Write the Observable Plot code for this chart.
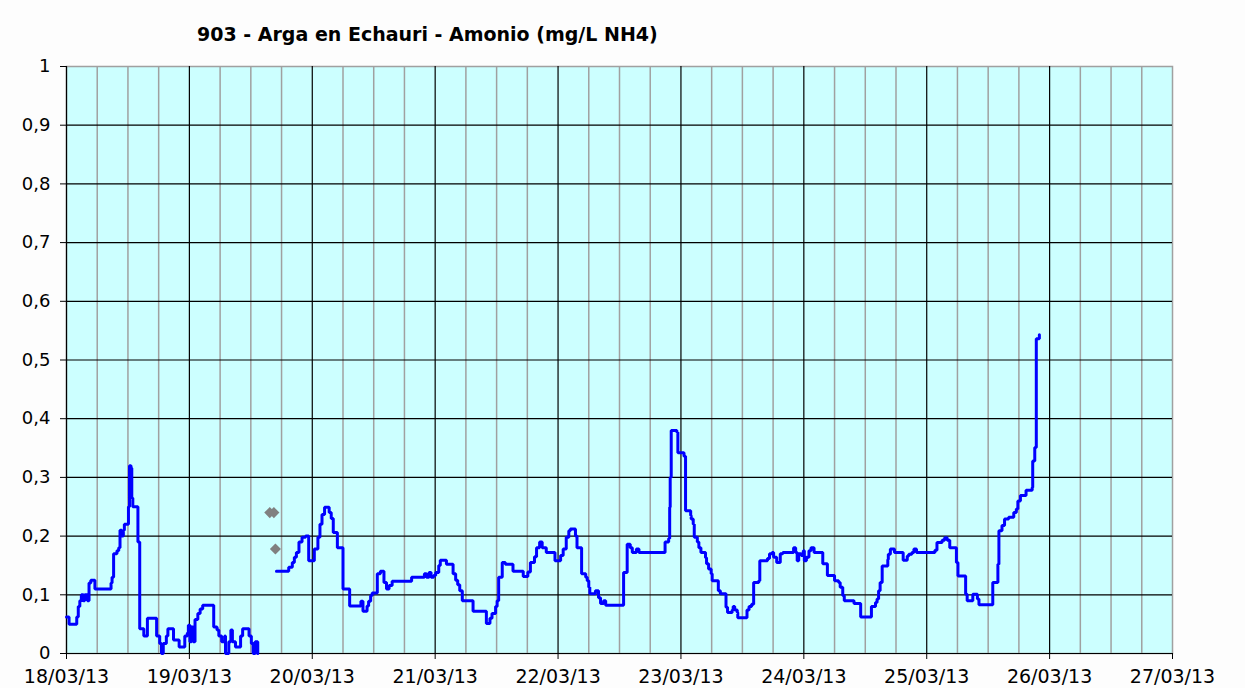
<!DOCTYPE html>
<html>
<head>
<meta charset="utf-8">
<script src="https://cdn.jsdelivr.net/npm/d3@7"></script>
<script src="https://cdn.jsdelivr.net/npm/@observablehq/plot@0.6"></script>
<style>
  html, body { margin: 0; padding: 0; background: #fdfdfd; }
  #wrap { position: relative; width: 1245px; height: 688px; }
  #title { position: absolute; left: 197px; top: 23px; font-family: "DejaVu Sans", sans-serif; font-weight: bold; font-size: 19px; color: #000; white-space: nowrap; }
</style>
</head>
<body>
<div id="wrap">
  <div id="title">903 - Arga en Echauri - Amonio (mg/L NH4)</div>
</div>
<script>
// Hours since 18/03/13 00:00 and measured ammonium values (mg/L NH4), step series
const seg1Hours = [0,0.5,2.0,2.3,2.6,2.9,3.3,3.55,4.1,4.4,4.75,5.55,8.7,8.9,9.2,9.85,10.2,10.45,10.8,11.1,11.3,12.1,12.3,12.6,12.75,12.95,13.95,14.3,15.1,15.8,17.6,18.2,18.55,18.9,19.5,19.8,20.9,22.0,23.1,23.6,23.8,24.1,24.4,24.75,25.1,25.65,26.1,26.6,28.75,29.4,29.75,30.3,30.9,31.05,31.7,32.1,32.4,33.0,34.0,34.4,35.65,36.1,36.45,36.85,37.35];
const seg1Values = [0.062,0.05,0.062,0.08,0.09,0.10,0.09,0.10,0.09,0.12,0.125,0.11,0.12,0.13,0.17,0.175,0.18,0.21,0.20,0.21,0.22,0.25,0.32,0.316,0.265,0.25,0.19,0.042,0.03,0.06,0.03,0.017,0,0.017,0.03,0.042,0.023,0.011,0.03,0.035,0.048,0.02,0.045,0.02,0.058,0.068,0.076,0.082,0.045,0.04,0.03,0.02,0.03,0,0.02,0.04,0.02,0.011,0.03,0.042,0.03,0.017,0,0.02,0];

const seg2Hours = [41.0,43.4,44.1,44.5,44.9,45.4,46.0,46.7,47.3,48.4,49.1,49.5,49.9,50.4,51.3,51.7,52.1,52.9,54.0,55.3,57.5,57.9,58.7,59.0,59.4,59.7,60.7,61.3,62.0,62.5,63.0,63.6,67.4,69.9,70.3,70.8,71.2,71.7,72.1,72.7,73.0,74.2,75.5,76.0,76.4,76.8,77.3,79.4,82.0,82.7,83.1,83.8,84.1,84.4,85.1,85.7,87.2,89.2,90.1,90.6,91.4,91.8,92.4,92.9,93.7,95.4,96.5,97.0,97.6,98.1,98.4,99.4,99.7,100.6,101.4,101.7,102.0,102.2,103.3,103.9,104.3,104.9,105.3,108.8,109.5,110.1,110.5,111.3,111.8,116.9,117.6,117.8,117.9,118.1,119.2,119.4,120.6,120.9,121.9,122.0,122.4,122.6,123.2,123.5,123.9,124.8,125.0,125.4,125.9,126.1,127.3,127.7,128.8,129.1,130.0,130.2,130.5,131.0,131.1,132.9,133.3,133.8,134.2,135.2,135.4,136.9,137.3,137.8,138.1,138.7,139.4,139.9,142.0,142.4,142.7,143.0,143.5,143.9,144.1,144.5,145.0,145.4,146.0,147.7,148.6,150.0,150.8,151.1,151.6,151.9,153.8,155.1,157.2,158.0,158.3,158.6,158.9,159.3,160.4,160.5,160.9,161.7,163.4,164.2,164.5,165.1,165.5,166.0,169.6,170.0,171.0,171.5,172.0,172.5,173.8,174.1,175.6,175.9,177.0,177.9,178.2,180.9,181.9,182.1,182.7,183.2,184.0,185.0,185.5,185.8,186.3,187.4,188.6,188.7,189.1,189.4,190.0];
const seg2Values = [0.14,0.147,0.155,0.164,0.172,0.19,0.198,0.2,0.158,0.178,0.198,0.22,0.237,0.249,0.24,0.23,0.206,0.18,0.11,0.081,0.089,0.072,0.081,0.089,0.099,0.103,0.136,0.14,0.121,0.11,0.116,0.123,0.13,0.136,0.13,0.138,0.13,0.133,0.138,0.15,0.159,0.152,0.136,0.125,0.117,0.107,0.09,0.072,0.051,0.06,0.068,0.08,0.09,0.13,0.155,0.152,0.14,0.131,0.139,0.155,0.165,0.18,0.19,0.18,0.172,0.158,0.167,0.178,0.198,0.209,0.212,0.2,0.18,0.136,0.13,0.124,0.113,0.102,0.107,0.095,0.085,0.09,0.082,0.138,0.186,0.18,0.172,0.178,0.172,0.19,0.196,0.249,0.3,0.38,0.377,0.342,0.336,0.243,0.235,0.229,0.22,0.198,0.19,0.18,0.172,0.163,0.153,0.144,0.136,0.124,0.107,0.102,0.079,0.07,0.074,0.08,0.074,0.07,0.061,0.074,0.08,0.084,0.121,0.124,0.158,0.162,0.17,0.172,0.164,0.155,0.17,0.172,0.18,0.172,0.158,0.17,0.167,0.175,0.158,0.164,0.175,0.18,0.172,0.153,0.133,0.124,0.121,0.113,0.099,0.09,0.085,0.062,0.08,0.087,0.093,0.107,0.121,0.149,0.16,0.169,0.178,0.172,0.159,0.166,0.169,0.172,0.178,0.172,0.176,0.189,0.193,0.197,0.193,0.18,0.155,0.132,0.101,0.09,0.101,0.093,0.083,0.121,0.152,0.209,0.218,0.229,0.232,0.24,0.246,0.26,0.269,0.278,0.283,0.328,0.351,0.536,0.543];

// isolated grey markers
const markerHours = [39.7, 40.5, 40.8];
const markerValues = [0.24, 0.24, 0.178];

const xTickLabels = ["18/03/13","19/03/13","20/03/13","21/03/13","22/03/13","23/03/13","24/03/13","25/03/13","26/03/13","27/03/13"];
const yTickLabels = ["0","0,1","0,2","0,3","0,4","0,5","0,6","0,7","0,8","0,9","1"];

const series = [
  ...seg1Hours.map((h, i) => ({h, v: seg1Values[i], seg: 1})),
  ...seg2Hours.map((h, i) => ({h, v: seg2Values[i], seg: 2}))
];
const markers = markerHours.map((h, i) => ({h, v: markerValues[i]}));

const dayTicks = xTickLabels.map((_, i) => i * 24);
const minorTicks = d3.range(0, 217, 6).filter(h => h % 24 !== 0);
const majorInner = dayTicks.filter(h => h > 0 && h < 216);
const yTicks = yTickLabels.map((_, i) => i / 10);
const yInner = yTicks.filter(v => v > 0 && v < 1);

const chart = Plot.plot({
  width: 1245,
  height: 688,
  marginTop: 66,
  marginLeft: 66,
  marginRight: 73,
  marginBottom: 35,
  style: { fontFamily: "DejaVu Sans, sans-serif", background: "transparent", color: "#000" },
  x: { domain: [0, 216], axis: null, label: null },
  y: { domain: [0, 1], axis: null, label: null },
  marks: [
    Plot.frame({ fill: "#ccffff", stroke: "#a0a0a0", strokeWidth: 1.5 }),
    Plot.ruleX(minorTicks, { stroke: "#a0a0a0", strokeWidth: 1.5 }),
    Plot.ruleY(yInner, { stroke: "#000", strokeWidth: 1.2 }),
    Plot.ruleX(majorInner, { stroke: "#000", strokeWidth: 1.2 }),
    Plot.ruleX([0], { stroke: "#000", strokeWidth: 1.2 }),
    Plot.ruleY([0], { stroke: "#000", strokeWidth: 1.2 }),
    Plot.line(series, { x: "h", y: "v", z: "seg", curve: "step-after", stroke: "#0000ff", strokeWidth: 3, strokeLinejoin: "miter" }),
    Plot.dot(markers, { x: "h", y: "v", symbol: "diamond2", r: 5, fill: "#808080", stroke: "none" }),
    Plot.axisX({ ticks: dayTicks, tickFormat: d => xTickLabels[Math.round(d / 24)], tickSize: 6, tickPadding: 10, fontSize: 19, stroke: "#000", label: null }),
    Plot.axisY({ ticks: yTicks, tickFormat: d => yTickLabels[Math.round(d * 10)], tickSize: 6, tickPadding: 10, fontSize: 18, stroke: "#000", label: null })
  ]
});
chart.style.position = "absolute";
chart.style.left = "0px";
chart.style.top = "0px";
document.getElementById("wrap").appendChild(chart);
</script>
</body>
</html>
